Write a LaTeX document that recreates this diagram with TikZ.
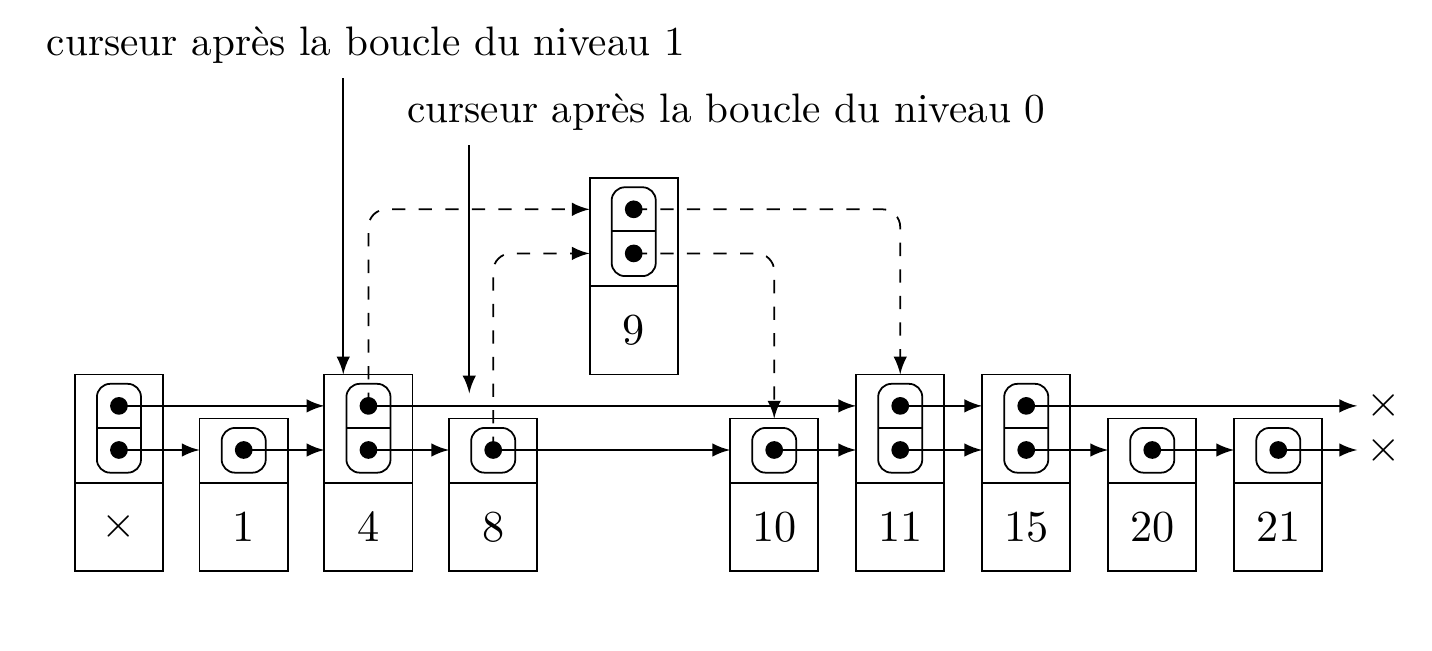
\documentclass[tikz,border=0pt]{standalone}
\usepackage{amsmath}
\usepackage{amssymb}
\usetikzlibrary{arrows}

\begin{document}
\begin{tikzpicture}[
	valbox/.style={draw, minimum width=0.7cm, minimum height=0.7cm, inner sep=0, outer sep=0},
	ptrbox/.style={draw, minimum width=0.7cm, inner sep=0, outer sep=0, anchor=south},
	dot/.style={circle, fill, inner sep=0, minimum size=4pt},
	cell/.style={rounded corners=3pt},
	nil/.style={inner sep=2pt},
	ptr/.style={-latex},
	lien/.style={-latex, dashed, rounded corners=4pt},
	legende/.style={anchor=south, scale=0.93}
	]
	\useasboundingbox (-0.944,-1.595) rectangle (10.42,3.571);
	
	% cellules de la liste
	\foreach \n/\x/\y/\h/\v in {0/0/0/2/$\times$, 1/0.99/0/1/1, 4/1.98/0/2/4, 8/2.97/0/1/8, 9/4.085/1.56/2/9, 10/5.2/0/1/10, 11/6.2/0/2/11, 15/7.2/0/2/15, 20/8.2/0/1/20, 21/9.2/0/1/21} {
		\node at (\x,\y-0.61) [valbox] (v\n) {\v};
		\node at (v\n.north) [ptrbox, minimum height={(0.16+0.35*\h)*1cm}] (n\n) {};
		\draw [cell] ({\x-0.175},{\y-0.18}) rectangle ({\x+0.175},{\y+0.35*\h-0.175});
		\node at (\x,\y) [dot] (bas\n) {};
	}
	% niveau 1
	\foreach \n/\x/\y in {0/0/0, 4/1.98/0, 9/4.085/1.56, 11/6.2/0, 15/7.2/0} {
		\draw ({\x-0.175},{\y+0.175}) -- ({\x+0.175},{\y+0.175});
		\node at (\x,\y+0.35) [dot] (haut\n) {};
	}
	\node at (10.04,0) [nil] (nil0) {$\times$};
	\node at (10.04,0.35) [nil] (nil1) {$\times$};
	
	% pointeurs
	\foreach \a/\b in {0/1, 1/4, 4/8, 8/10, 10/11, 11/15, 15/20, 20/21}
		\draw [ptr] (bas\a.center) -- (bas\a -| n\b.west);
	\draw [ptr] (bas21.center) -- (nil0.west);
	\foreach \a/\b in {0/4, 4/11, 11/15}
		\draw [ptr] (haut\a.center) -- (haut\a -| n\b.west);
	\draw [ptr] (haut15.center) -- (nil1.west);
	
	% insertion de 9
	\draw [lien] (haut4.center) |- (haut9 -| n9.west);
	\draw [lien] (bas8.center) |- (bas9 -| n9.west);
	\draw [lien] (haut9.center) -| (n11.north);
	\draw [lien] (bas9.center) -| (n10.north);
	
	% curseurs
	\node at (1.96,2.95) [legende] (cur1) {curseur après la boucle du niveau 1};
	\node at (4.82,2.42) [legende] (cur0) {curseur après la boucle du niveau 0};
	\coordinate (pos1) at ([xshift=-0.2cm]n4.north);
	\coordinate (pos0) at (2.78,0.45);
	\draw [ptr] (cur1.south -| pos1) -- (pos1);
	\draw [ptr] (cur0.south -| pos0) -- (pos0);
\end{tikzpicture}
\end{document}
